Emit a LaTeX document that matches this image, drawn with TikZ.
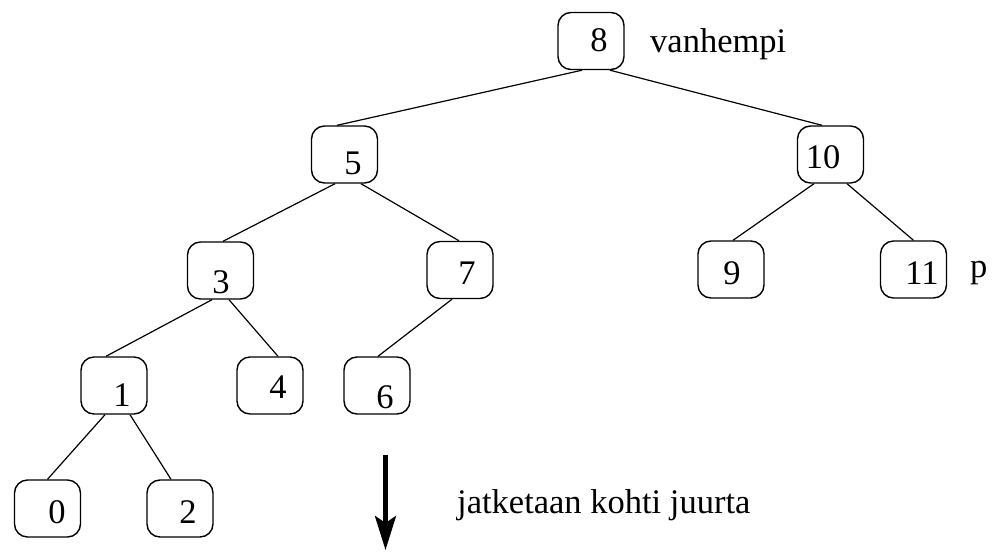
\documentclass[tikz,border=0pt]{standalone}
\usepackage{fontspec}
\setmainfont{Liberation Serif}
\usetikzlibrary{arrows.meta}
\begin{document}
\begin{tikzpicture}[x=1pt,y=-1pt,
  box/.style={draw,line width=1.4pt,rounded corners=13pt,minimum width=66pt,minimum height=57pt,inner sep=0pt},
  num/.style={inner sep=0pt,font=\fontsize{34.5}{40}\selectfont},
  lbl/.style={inner sep=0pt,anchor=base west,font=\fontsize{34.5}{40}\selectfont},
  edge/.style={line width=1.2pt}]
\useasboundingbox (0,0) rectangle (994,552);
% boxes
\node[box] (n8) at (591,41) {};
\node[box] (n5) at (344.5,154.5) {};
\node[box] (n10) at (830.5,154.5) {};
\node[box] (n3) at (220.5,270.5) {};
\node[box] (n7) at (460,270) {};
\node[box] (n9) at (731,269.5) {};
\node[box] (n11) at (913.5,269.5) {};
\node[box] (n1) at (114,385.5) {};
\node[box] (n4) at (270,385.5) {};
\node[box] (n6) at (377,385.5) {};
\node[box] (n0) at (47.5,508.5) {};
\node[box] (n2) at (180,508.5) {};
% numbers
\node[num] (t8) at (599,40) {8};
\node[num] (t5) at (353,163) {5};
\node[num] (t10) at (823,157) {10};
\node[num] (t3) at (221,282) {3};
\node[num] (t7) at (467,273) {7};
\node[num] (t9) at (732,273) {9};
\node[num] (t11) at (922,273) {11};
\node[num] (t1) at (122,395) {1};
\node[num] (t4) at (278,387) {4};
\node[num] (t6) at (385,397) {6};
\node[num] (t0) at (57,512) {0};
\node[num] (t2) at (188,512) {2};
% labels
\node[lbl] (vh) at (650,52) {vanhempi};
\node[lbl] (pp) at (970,277) {p};
\node[lbl] (jk) at (457,513) {jatketaan kohti juurta};
% edges
\draw[edge] ([xshift=-9pt]n8.south) -- ([xshift=-7.5pt]n5.north);
\draw[edge] ([xshift=19pt]n8.south) -- ([xshift=-8.5pt]n10.north);
\draw[edge] ([xshift=-9.5pt]n5.south) -- ([xshift=2.5pt]n3.north);
\draw[edge] ([xshift=16.5pt]n5.south) -- ([xshift=-1pt]n7.north);
\draw[edge] ([xshift=-16.5pt]n10.south) -- ([xshift=2pt]n9.north);
\draw[edge] ([xshift=16.5pt]n10.south) -- ([xshift=0pt]n11.north);
\draw[edge] ([xshift=-8.5pt]n3.south) -- ([xshift=-8pt]n1.north);
\draw[edge] ([xshift=8.5pt]n3.south) -- ([xshift=8pt]n4.north);
\draw[edge] ([xshift=-8pt]n7.south) -- ([xshift=1pt]n6.north);
\draw[edge] ([xshift=-9pt]n1.south) -- ([xshift=0pt]n0.north);
\draw[edge] ([xshift=16pt]n1.south) -- ([xshift=-9pt]n2.north);
% arrow
\coordinate (a1) at (385.5,455);
\coordinate (a2) at (385.5,550);
\draw[line width=4.5pt,-{Stealth[length=34pt,width=21pt,inset=7pt]}] (a1) -- (a2);
\end{tikzpicture}
\end{document}
